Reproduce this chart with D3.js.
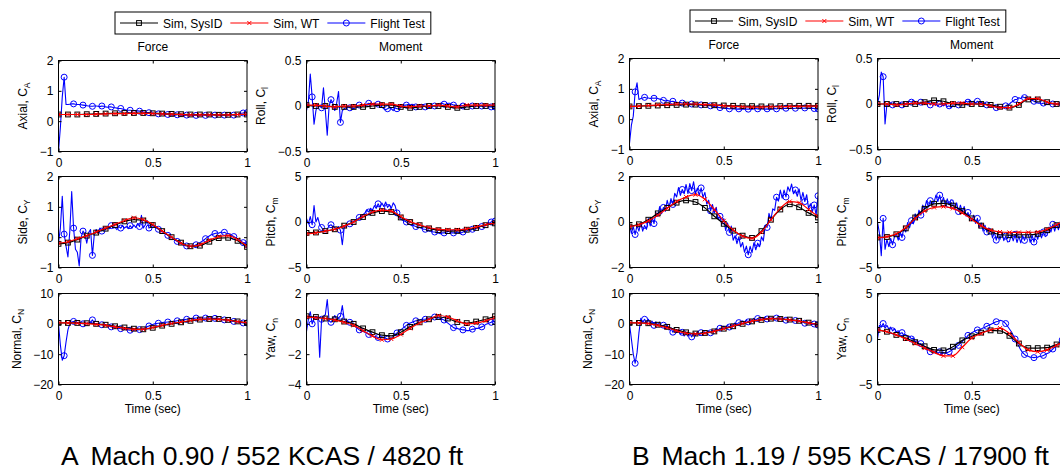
<!DOCTYPE html>
<html>
<head>
<meta charset="utf-8">
<script src="https://cdn.jsdelivr.net/npm/d3@7"></script>
<style>
body { margin: 0; background: #fff; overflow: hidden; }
svg { display: block; font-family: "Liberation Sans", Arial, sans-serif; }
</style>
</head>
<body>
<div id="chart"></div>
<script>
//Sample times (sec): simulation every 0.05, flight test every 0.01
var simTime = d3.range(21).map(function(i) { return i / 20; });
var ftTime = d3.range(101).map(function(i) { return i / 100; });

var timeTicks = [0, 0.5, 1];
var axialTicks = [-1, 0, 1, 2];
var rollTicks = [-0.5, 0, 0.5];
var sideTicksA = [-1, 0, 1, 2];
var sideTicksB = [-2, 0, 2];
var pitchTicks = [-5, 0, 5];
var normalTicks = [-20, -10, 0, 10];
var yawTicksA = [-4, -2, 0, 2];
var yawTicksB = [-5, 0, 5];

var seriesNames = ["Sim, SysID", "Sim, WT", "Flight Test"];
var captionA = ["A", "Mach 0.90 / 552 KCAS / 4820 ft"];
var captionB = ["B", "Mach 1.19 / 595 KCAS / 17900 ft"];

//---- Case A ----
var a_axial_sysid = [0.22,0.22,0.22,0.23,0.24,0.25,0.26,0.27,0.27,0.27,0.26,0.25,0.24,0.23,0.22,0.22,0.22,0.21,0.21,0.22,0.22];
var a_axial_wt = [0.22,0.22,0.22,0.22,0.23,0.24,0.25,0.25,0.26,0.26,0.25,0.24,0.23,0.22,0.21,0.21,0.21,0.21,0.21,0.22,0.23];
var a_axial_ft = [
 -1.0,-0.2,0.8,1.45,0.55,0.55,0.56,0.57,0.57,0.56,
 0.55,0.55,0.54,0.53,0.52,0.51,0.5,0.49,0.49,0.5,
 0.5,0.49,0.48,0.5,0.49,0.47,0.46,0.47,0.47,0.45,
 0.44,0.43,0.42,0.42,0.4,0.38,0.37,0.36,0.36,0.35,
 0.35,0.34,0.34,0.33,0.32,0.3,0.29,0.28,0.28,0.27,
 0.26,0.25,0.25,0.24,0.24,0.24,0.23,0.22,0.22,0.21,
 0.2,0.2,0.2,0.21,0.21,0.2,0.19,0.19,0.2,0.2,
 0.2,0.2,0.19,0.19,0.19,0.2,0.2,0.2,0.19,0.2,
 0.2,0.2,0.21,0.2,0.2,0.19,0.19,0.2,0.2,0.2,
 0.2,0.21,0.21,0.2,0.21,0.22,0.24,0.26,0.27,0.28,
 0.28];

var a_roll_sysid = [0.01,0.0,0.0,-0.01,-0.01,-0.01,-0.01,0.0,0.01,0.01,-0.01,-0.02,-0.01,0.0,0.0,-0.01,-0.02,-0.01,0.0,0.0,0.0];
var a_roll_wt = [0.01,0.01,0.0,-0.01,0.0,0.0,0.01,0.02,0.02,0.02,0.0,-0.01,0.0,0.0,0.01,0.0,-0.01,0.01,0.01,0.01,0.01];
var a_roll_ft = [
 -0.05,0.05,0.35,0.1,-0.2,-0.05,0.02,0.0,-0.02,0.2,
 -0.05,-0.32,0.0,0.07,0.03,-0.05,0.03,0.16,-0.18,-0.05,
 -0.03,-0.02,-0.01,-0.02,-0.02,-0.03,-0.02,0.0,0.01,0.0,
 0.01,0.0,0.02,0.03,0.02,0.02,0.01,0.02,0.02,0.01,
 -0.01,-0.03,-0.04,-0.03,-0.02,-0.03,-0.05,-0.02,-0.03,-0.03,
 -0.01,0.0,0.01,0.01,0.02,0.01,0.02,0.01,-0.01,0.0,
 0.01,0.02,0.01,-0.01,-0.02,-0.02,-0.01,0.0,0.0,0.01,
 0.02,0.03,0.03,0.02,0.02,0.03,0.03,0.02,0.01,0.01,
 0.0,0.0,0.01,0.0,0.0,0.01,0.01,0.0,0.0,0.0,
 0.0,0.0,0.0,0.0,-0.01,0.0,0.0,-0.01,-0.01,-0.01,
 -0.01];

var a_side_sysid = [-0.22,-0.18,-0.08,0.05,0.15,0.28,0.4,0.52,0.58,0.55,0.4,0.2,0.0,-0.18,-0.3,-0.28,-0.15,-0.03,-0.02,-0.12,-0.32];
var a_side_wt = [-0.2,-0.15,-0.05,0.05,0.17,0.3,0.42,0.55,0.64,0.58,0.42,0.2,0.0,-0.2,-0.3,-0.25,-0.1,0.02,0.05,-0.08,-0.3];
var a_side_ft = [
 -0.2,0.3,1.35,0.1,-0.3,-0.65,0.2,1.5,0.3,-0.4,
 -0.5,-0.95,0.0,0.2,0.1,-0.2,0.15,0.25,-0.6,0.1,
 0.25,0.15,0.3,0.2,0.32,0.25,0.35,0.28,0.38,0.3,
 0.32,0.25,0.35,0.3,0.38,0.3,0.35,0.28,0.38,0.3,
 0.4,0.32,0.45,0.35,0.72,0.3,0.4,0.55,0.3,0.35,
 0.38,0.34,0.3,0.26,0.22,0.18,0.14,0.1,0.06,0.02,
 -0.02,-0.06,-0.1,-0.14,-0.18,-0.22,-0.25,-0.27,-0.29,-0.3,
 -0.3,-0.3,-0.28,-0.25,-0.22,-0.18,-0.14,-0.1,-0.05,0.0,
 0.04,0.08,0.1,0.12,0.14,0.13,0.16,0.14,0.16,0.13,
 0.12,0.1,0.06,0.02,-0.02,-0.06,-0.1,-0.14,-0.18,-0.2,
 -0.25];

var a_pitch_sysid = [-1.2,-1.15,-1.0,-0.8,-0.4,0.0,0.55,1.0,1.2,1.1,0.5,0.0,-0.35,-0.7,-0.9,-1.0,-0.98,-0.85,-0.65,-0.35,-0.15];
var a_pitch_wt = [-1.3,-1.2,-1.0,-0.8,-0.45,0.0,0.6,1.1,1.3,1.2,0.6,0.05,-0.3,-0.6,-0.8,-0.85,-0.85,-0.75,-0.55,-0.3,-0.1];
var a_pitch_ft = [
 0.4,-0.2,0.6,-0.3,1.8,0.0,0.5,-0.3,-0.6,-0.9,
 -1.1,-0.8,-0.4,-0.3,-0.5,-0.6,-0.8,-0.5,-0.9,-2.5,
 -0.6,-0.4,-0.3,-0.2,-0.1,0.1,0.2,0.3,0.5,0.6,
 0.8,1.0,1.3,1.1,1.5,1.3,1.8,1.5,2.0,1.6,
 2.1,1.7,2.2,1.6,1.9,1.5,2.1,1.8,1.0,0.5,
 0.3,0.2,0.1,0.0,-0.2,-0.3,-0.4,-0.4,-0.5,-0.6,
 -0.6,-0.7,-0.8,-0.8,-0.9,-1.0,-1.0,-1.1,-1.1,-1.2,
 -1.2,-1.3,-1.2,-1.2,-1.1,-1.0,-1.1,-1.2,-1.2,-1.2,
 -1.1,-1.2,-1.2,-1.1,-1.0,-1.0,-0.9,-0.9,-0.8,-0.8,
 -0.7,-0.6,-0.5,-0.5,-0.4,-0.3,-0.2,-0.1,0.0,0.1,
 0.1];

var a_normal_sysid = [0.3,0.3,0.3,0.2,0.0,-0.3,-0.8,-1.2,-1.6,-1.8,-1.3,-0.6,0.0,0.5,1.0,1.4,1.6,1.6,1.3,0.8,0.3];
var a_normal_wt = [0.3,0.3,0.2,0.1,-0.2,-0.5,-1.0,-1.5,-1.8,-1.8,-1.2,-0.5,0.1,0.6,1.1,1.5,1.6,1.5,1.2,0.7,0.3];
var a_normal_ft = [
 0.0,-7.0,-12.0,-10.5,-6.0,-2.0,0.0,0.6,0.8,0.6,
 0.4,0.2,0.3,0.0,0.2,0.1,0.3,0.5,1.3,0.2,
 0.0,-0.1,-0.2,-0.3,-0.4,-0.5,-0.7,-0.8,-1.0,-1.1,
 -1.2,-1.4,-1.5,-1.6,-1.7,-1.8,-1.9,-2.0,-2.1,-2.1,
 -2.1,-2.0,-2.0,-1.9,-1.8,-1.6,-1.3,-1.0,-0.7,-0.4,
 -0.2,0.0,0.1,0.2,0.3,0.4,0.5,0.5,0.6,0.6,
 0.7,0.8,0.9,1.0,1.1,1.2,1.3,1.4,1.5,1.6,
 1.7,1.8,1.8,1.9,1.9,1.9,1.9,1.9,1.9,1.9,
 1.9,1.9,1.8,1.8,1.7,1.6,1.5,1.4,1.3,1.2,
 1.1,1.0,0.9,0.8,0.7,0.6,0.5,0.4,0.3,0.3,
 0.3];

var a_yaw_sysid = [0.5,0.45,0.35,0.3,0.15,0.0,-0.3,-0.55,-0.75,-0.8,-0.55,-0.2,0.1,0.3,0.45,0.35,0.12,0.05,0.15,0.3,0.5];
var a_yaw_wt = [0.45,0.4,0.35,0.25,0.1,-0.1,-0.45,-0.8,-1.05,-1.0,-0.7,-0.3,0.05,0.3,0.55,0.45,0.2,0.0,0.05,0.2,0.4];
var a_yaw_ft = [
 -0.5,0.3,0.8,0.0,0.3,0.5,0.4,-2.2,0.3,0.5,
 0.6,1.6,0.2,0.1,0.3,0.55,0.3,0.4,0.5,1.2,
 0.3,0.2,0.15,0.1,0.0,-0.1,-0.2,-0.3,-0.4,-0.45,
 -0.5,-0.55,-0.6,-0.7,-0.75,-0.8,-0.85,-0.85,-0.9,-0.9,
 -0.85,-0.9,-0.95,-1.0,-1.0,-0.95,-0.85,-0.7,-0.6,-0.5,
 -0.4,-0.3,-0.2,-0.1,0.0,0.05,0.1,0.15,0.2,0.2,
 0.25,0.3,0.3,0.3,0.35,0.35,0.4,0.4,0.45,0.4,
 0.4,0.35,0.3,0.25,0.15,0.05,-0.05,-0.15,-0.25,-0.3,
 -0.3,-0.35,-0.35,-0.4,-0.4,-0.45,-0.45,-0.4,-0.35,-0.35,
 -0.3,-0.3,-0.25,-0.2,-0.15,-0.05,0.0,0.05,0.1,0.15,
 0.15];

//---- Case B ----
var b_axial_sysid = [0.42,0.43,0.44,0.45,0.46,0.47,0.48,0.48,0.47,0.46,0.45,0.44,0.43,0.43,0.42,0.42,0.43,0.43,0.44,0.44,0.44];
var b_axial_wt = [0.42,0.43,0.45,0.47,0.48,0.5,0.5,0.5,0.48,0.47,0.44,0.42,0.41,0.4,0.4,0.41,0.41,0.42,0.42,0.43,0.43];
var b_axial_ft = [
 -0.8,-0.2,0.1,0.9,1.2,0.65,0.68,0.7,0.72,0.7,
 0.7,0.68,0.7,0.69,0.7,0.68,0.66,0.65,0.62,0.6,
 0.62,0.6,0.58,0.59,0.57,0.56,0.55,0.55,0.53,0.54,
 0.52,0.52,0.51,0.5,0.5,0.49,0.5,0.48,0.47,0.48,
 0.46,0.45,0.44,0.44,0.42,0.42,0.4,0.39,0.38,0.37,
 0.36,0.35,0.35,0.34,0.35,0.34,0.34,0.33,0.34,0.33,
 0.33,0.34,0.33,0.33,0.34,0.33,0.34,0.35,0.34,0.34,
 0.35,0.34,0.33,0.34,0.33,0.33,0.34,0.35,0.34,0.35,
 0.35,0.34,0.35,0.36,0.35,0.35,0.36,0.35,0.36,0.36,
 0.36,0.35,0.36,0.37,0.36,0.36,0.35,0.36,0.35,0.34,
 0.34];

var b_roll_sysid = [0.0,0.0,0.0,0.0,0.0,0.02,0.04,0.03,0.0,-0.01,0.0,0.0,-0.01,-0.03,-0.04,-0.01,0.05,0.05,0.02,0.0,0.0];
var b_roll_wt = [0.0,0.0,-0.01,0.0,0.01,0.01,0.0,0.0,0.01,0.01,0.0,0.0,-0.02,-0.04,-0.04,0.0,0.06,0.06,0.02,0.0,0.0];
var b_roll_ft = [
 0.0,0.1,0.35,0.3,-0.22,0.0,-0.02,0.01,-0.01,0.01,
 -0.01,0.0,0.01,-0.01,0.01,0.0,0.02,0.03,0.02,0.04,
 0.02,0.03,0.0,0.02,-0.01,0.01,0.0,0.02,-0.01,0.01,
 -0.01,0.0,-0.02,0.0,-0.01,-0.02,0.0,-0.03,-0.02,-0.04,
 -0.02,-0.03,0.0,-0.01,0.01,0.02,0.01,0.03,0.02,0.04,
 0.02,0.03,0.01,0.03,0.01,0.02,0.0,0.01,-0.01,-0.02,
 -0.02,-0.03,-0.02,-0.04,-0.03,-0.04,-0.03,-0.04,-0.02,-0.01,
 0.0,0.02,0.03,0.05,0.05,0.07,0.06,0.08,0.07,0.07,
 0.06,0.05,0.04,0.03,0.02,0.01,0.01,0.0,0.01,0.0,
 0.0,0.0,0.0,0.0,0.0,0.0,0.0,0.0,0.0,0.0,
 0.0];

var b_side_sysid = [-0.2,-0.1,0.1,0.38,0.62,0.85,0.95,0.88,0.62,0.25,-0.08,-0.38,-0.6,-0.7,-0.4,0.1,0.55,0.78,0.65,0.4,0.2];
var b_side_wt = [-0.2,-0.12,0.05,0.3,0.6,0.9,1.1,1.2,1.0,0.55,0.05,-0.35,-0.62,-0.72,-0.45,0.1,0.6,0.9,0.85,0.55,0.25];
var b_side_ft = [
 -0.1,-0.5,-0.2,-0.55,-0.15,-0.4,-0.03,-0.4,-0.15,-0.32,
 0.15,-0.17,0.2,-0.07,0.42,0.25,0.68,0.36,0.64,0.47,
 0.95,0.64,1.03,0.77,1.26,1.1,1.51,1.17,1.43,1.24,
 1.65,1.25,1.69,1.38,1.77,1.25,1.49,1.17,1.5,1.08,
 1.3,0.78,0.96,0.49,0.77,0.4,0.65,0.15,0.25,-0.1,
 0.15,-0.37,-0.04,-0.46,-0.18,-0.8,-0.6,-0.95,-0.65,-1.1,
 -0.9,-1.33,-1.06,-1.44,-1.07,-1.35,-0.91,-1.22,-0.93,-1.09,
 -0.65,-0.83,-0.16,-0.24,0.38,0.1,0.58,0.51,1.09,0.92,
 1.4,1.05,1.4,1.1,1.55,1.35,1.67,1.24,1.41,1.13,
 1.45,0.95,1.3,0.9,1.2,0.6,0.8,0.45,0.75,0.3,
 1.15];

var b_pitch_sysid = [-1.7,-1.65,-1.35,-0.7,0.5,1.45,2.0,2.05,1.8,1.2,0.4,-0.4,-1.05,-1.4,-1.45,-1.4,-1.4,-1.3,-0.9,-0.35,0.2];
var b_pitch_wt = [-1.75,-1.6,-1.3,-0.6,0.4,1.2,1.6,1.7,1.5,1.0,0.3,-0.4,-0.9,-1.1,-1.15,-1.15,-1.15,-1.1,-0.8,-0.3,0.2];
var b_pitch_ft = [
 0.0,-1.2,-3.7,0.4,-3.0,-1.9,-2.7,-1.8,-2.5,-1.6,
 -1.3,-2.0,-1.1,-1.7,-0.65,-1.1,-0.05,-0.65,0.15,-0.2,
 0.9,0.3,1.3,0.75,1.85,1.4,2.35,1.65,2.35,1.9,
 2.15,2.95,2.25,2.95,2.05,2.7,1.85,2.55,1.9,2.45,
 2.4,1.45,2.1,1.15,1.85,1.1,1.7,0.65,1.05,0.25,
 0.15,0.75,-0.15,0.4,-0.65,-0.1,-1.0,-0.35,-1.1,-0.65,
 -0.8,-1.75,-1.1,-2.0,-1.2,-1.9,-1.15,-2.05,-1.55,-2.18,
 -2.15,-1.35,-2.07,-1.35,-2.25,-1.55,-2.3,-1.48,-2.02,-1.4,
 -1.4,-2.23,-1.45,-2.2,-1.3,-1.9,-1.0,-1.75,-1.1,-1.6,
 -1.45,-0.55,-1.1,-0.25,-1.0,-0.2,-0.85,0.05,-0.4,0.3,
 0.05];

var b_normal_sysid = [0.3,0.3,0.2,-0.3,-1.0,-2.0,-2.8,-3.2,-3.0,-2.5,-1.6,-0.8,0.0,0.8,1.3,1.7,1.6,1.4,1.0,0.4,-0.2];
var b_normal_wt = [0.3,0.3,0.1,-0.5,-1.3,-2.3,-3.1,-3.3,-3.1,-2.5,-1.6,-0.7,0.1,0.9,1.4,1.7,1.6,1.3,0.9,0.3,-0.3];
var b_normal_ft = [
 0.0,-5.0,-10.0,-13.0,-9.5,-3.0,1.8,0.5,1.5,0.2,
 1.5,0.05,0.9,-0.5,0.65,-0.4,0.55,-1.0,-0.45,-1.7,
 -0.5,-2.05,-1.3,-2.75,-1.7,-2.9,-1.9,-3.4,-2.8,-4.0,
 -2.8,-4.1,-3.1,-4.3,-3.0,-3.9,-2.6,-3.8,-2.9,-3.8,
 -2.65,-3.15,-2.5,-2.95,-2.15,-2.4,-1.6,-2.05,-1.45,-1.75,
 -0.85,-1.3,-0.6,-1.05,-0.25,-0.5,0.3,-0.15,0.4,0.05,
 0.95,0.45,1.1,0.65,1.45,1.1,1.8,1.25,1.75,1.35,
 2.05,1.6,2.0,1.6,2.05,1.75,2.1,1.65,1.9,1.5,
 1.95,1.4,1.65,1.2,1.55,1.15,1.45,0.95,1.1,0.65,
 1.05,0.5,0.7,0.2,0.45,0.05,0.35,-0.2,-0.05,-0.55,
 -0.4];

var b_yaw_sysid = [1.0,0.8,0.45,0.1,-0.35,-0.8,-1.2,-1.25,-0.85,-0.15,0.3,0.7,0.95,0.9,0.35,-0.5,-1.0,-1.0,-0.95,-0.6,-0.2];
var b_yaw_wt = [1.0,0.8,0.45,0.0,-0.5,-1.0,-1.45,-1.85,-1.85,-0.9,0.1,0.6,1.0,1.2,0.6,-0.4,-1.2,-1.4,-1.2,-0.7,-0.2];
var b_yaw_ft = [
 0.0,1.5,1.3,1.7,1.2,1.5,1.1,1.3,0.9,1.1,
 0.8,0.9,0.6,0.7,0.4,0.5,0.2,0.3,0.0,0.1,
 -0.3,-0.2,-0.6,-0.5,-0.9,-0.8,-1.2,-1.0,-1.4,-1.2,
 -1.55,-1.3,-1.6,-1.4,-1.7,-1.5,-1.6,-1.5,-1.4,-1.3,
 -1.1,-1.0,-0.8,-0.7,-0.4,-0.3,0.0,0.1,0.4,0.5,
 0.7,0.8,0.9,1.0,1.0,1.1,1.2,1.3,1.4,1.5,
 1.6,1.7,1.8,1.9,1.95,2.05,2.0,1.9,1.7,1.4,
 1.1,0.8,0.4,0.0,-0.4,-0.8,-1.2,-1.5,-1.7,-1.85,
 -1.9,-2.0,-2.0,-2.05,-2.0,-2.0,-1.9,-1.9,-1.8,-1.7,
 -1.6,-1.5,-1.3,-1.1,-0.9,-0.7,-0.5,-0.3,-0.1,0.1,
 0.2];

//Layout
var width = 1060, height = 471;
var plotW = 188.5, plotH = 91;
var colX = [58.5, 306.5];
var colTitles = ["Force", "Moment"];
var fontFamily = "'Liberation Sans', Arial, sans-serif";

var panels = [
	{ caption: captionA, dx: 0, rowTop: [60.5, 176.5, 293.5], legendX: 115, legendY: 12, titleY: 50.5,
		plots: [
			{ row: 0, col: 0, label: "Axial, C", sub: "A", domain: [-1, 2], ticks: axialTicks, s: a_axial_sysid, w: a_axial_wt, f: a_axial_ft },
			{ row: 0, col: 1, label: "Roll, C", sub: "l", domain: [-0.5, 0.5], ticks: rollTicks, s: a_roll_sysid, w: a_roll_wt, f: a_roll_ft },
			{ row: 1, col: 0, label: "Side, C", sub: "Y", domain: [-1, 2], ticks: sideTicksA, s: a_side_sysid, w: a_side_wt, f: a_side_ft },
			{ row: 1, col: 1, label: "Pitch, C", sub: "m", domain: [-5, 5], ticks: pitchTicks, s: a_pitch_sysid, w: a_pitch_wt, f: a_pitch_ft },
			{ row: 2, col: 0, label: "Normal, C", sub: "N", domain: [-20, 10], ticks: normalTicks, s: a_normal_sysid, w: a_normal_wt, f: a_normal_ft },
			{ row: 2, col: 1, label: "Yaw, C", sub: "n", domain: [-4, 2], ticks: yawTicksA, s: a_yaw_sysid, w: a_yaw_wt, f: a_yaw_ft }
		] },
	{ caption: captionB, dx: 571, rowTop: [58.5, 176.5, 293.5], legendX: 690, legendY: 10, titleY: 48.5,
		plots: [
			{ row: 0, col: 0, label: "Axial, C", sub: "A", domain: [-1, 2], ticks: axialTicks, s: b_axial_sysid, w: b_axial_wt, f: b_axial_ft },
			{ row: 0, col: 1, label: "Roll, C", sub: "l", domain: [-0.5, 0.5], ticks: rollTicks, s: b_roll_sysid, w: b_roll_wt, f: b_roll_ft },
			{ row: 1, col: 0, label: "Side, C", sub: "Y", domain: [-2, 2], ticks: sideTicksB, s: b_side_sysid, w: b_side_wt, f: b_side_ft },
			{ row: 1, col: 1, label: "Pitch, C", sub: "m", domain: [-5, 5], ticks: pitchTicks, s: b_pitch_sysid, w: b_pitch_wt, f: b_pitch_ft },
			{ row: 2, col: 0, label: "Normal, C", sub: "N", domain: [-20, 10], ticks: normalTicks, s: b_normal_sysid, w: b_normal_wt, f: b_normal_ft },
			{ row: 2, col: 1, label: "Yaw, C", sub: "n", domain: [-5, 5], ticks: yawTicksB, s: b_yaw_sysid, w: b_yaw_wt, f: b_yaw_ft }
		] }
];

var fmt = d3.format("~g");

var svg = d3.select("#chart")
	.append("svg")
	.attr("width", width)
	.attr("height", height)
	.style("font-family", fontFamily);

//Marker drawing: square (SysID), x (WT), circle (flight test)
var drawMarker = function(sel, type) {
	if (type === "square") {
		sel.append("rect").attr("x", -2.4).attr("y", -2.4).attr("width", 4.8).attr("height", 4.8)
			.attr("fill", "none").attr("stroke", "#000").attr("stroke-width", 1);
	} else if (type === "cross") {
		sel.append("path").attr("d", "M-2,-2L2,2M-2,2L2,-2")
			.attr("fill", "none").attr("stroke", "#ff0000").attr("stroke-width", 1);
	} else {
		sel.append("circle").attr("r", 3)
			.attr("fill", "none").attr("stroke", "#0000ff").attr("stroke-width", 1);
	}
};

var clipId = 0;

var drawPlot = function(panel, p) {
	var originX = panel.dx + colX[p.col];
	var g = svg.append("g")
		.attr("transform", "translate(" + originX + "," + panel.rowTop[p.row] + ")");

	var x = d3.scaleLinear().domain([0, 1]).range([0, plotW]);
	var y = d3.scaleLinear().domain(p.domain).range([plotH, 0]);

	var id = "clip" + (clipId++);
	g.append("clipPath").attr("id", id)
		.append("rect").attr("width", plotW).attr("height", plotH);

	var plot = g.append("g").attr("clip-path", "url(#" + id + ")");

	var lineLin = d3.line()
		.x(function(d) { return x(d[0]); })
		.y(function(d) { return y(d[1]); });
	var lineSmooth = d3.line()
		.curve(d3.curveMonotoneX)
		.x(function(d) { return x(d[0]); })
		.y(function(d) { return y(d[1]); });

	var ftData = p.f.map(function(v, i) { return [ftTime[i], v]; });
	var sData = p.s.map(function(v, i) { return [simTime[i], v]; });
	var wData = p.w.map(function(v, i) { return [simTime[i], v]; });

	//Flight test (bottom), then SysID, then WT
	plot.append("path").datum(ftData).attr("d", lineLin)
		.attr("fill", "none").attr("stroke", "#0000ff").attr("stroke-width", 1.1).attr("stroke-linejoin", "round");
	plot.selectAll(".ftm")
		.data(ftData.filter(function(d, i) { return i % 5 === 3 || i === 100; }))
		.enter().append("g")
		.attr("transform", function(d) { return "translate(" + x(d[0]) + "," + y(d[1]) + ")"; })
		.call(drawMarker, "circle");

	plot.append("path").datum(sData).attr("d", lineSmooth)
		.attr("fill", "none").attr("stroke", "#000").attr("stroke-width", 1.2);
	plot.selectAll(".sm")
		.data(sData).enter().append("g")
		.attr("transform", function(d) { return "translate(" + x(d[0]) + "," + y(d[1]) + ")"; })
		.call(drawMarker, "square");

	plot.append("path").datum(wData).attr("d", lineSmooth)
		.attr("fill", "none").attr("stroke", "#ff0000").attr("stroke-width", 1.2);
	plot.selectAll(".wm")
		.data(wData).enter().append("g")
		.attr("transform", function(d) { return "translate(" + x(d[0]) + "," + y(d[1]) + ")"; })
		.call(drawMarker, "cross");

	//Axes, ticks pointing inside on all four sides
	var styleAxis = function(a) {
		a.attr("font-size", 12).attr("font-family", fontFamily);
		a.select(".domain").remove();
		a.selectAll("text").attr("fill", "#000");
	};
	var yAxis = g.append("g")
		.call(d3.axisLeft(y).tickValues(p.ticks).tickFormat(fmt).tickSize(-3).tickPadding(5))
		.call(styleAxis);
	g.append("g")
		.attr("transform", "translate(" + plotW + ",0)")
		.call(d3.axisRight(y).tickValues(p.ticks).tickFormat("").tickSize(-3))
		.call(styleAxis);
	var xAxis = g.append("g")
		.attr("transform", "translate(0," + plotH + ")")
		.call(d3.axisBottom(x).tickValues(timeTicks).tickFormat(fmt).tickSize(-3).tickPadding(7))
		.call(styleAxis);
	//tick labels falling past the right edge of the figure are not shown
	xAxis.selectAll(".tick").filter(function(d) { return originX + x(d) + 3 > width; })
		.select("text").remove();
	g.append("g")
		.call(d3.axisTop(x).tickValues(timeTicks).tickFormat("").tickSize(-3))
		.call(styleAxis);

	g.append("rect")
		.attr("width", plotW).attr("height", plotH)
		.attr("fill", "none").attr("stroke", "#000").attr("stroke-width", 1);

	//Y label placed just beyond the widest tick label
	var maxW = d3.max(yAxis.selectAll("text").nodes(), function(n) { return n.getComputedTextLength(); });
	var lab = g.append("text")
		.attr("transform", "translate(" + (-5 - maxW - 12.5) + "," + (plotH / 2) + ") rotate(-90)")
		.attr("text-anchor", "middle")
		.attr("font-size", 12)
		.attr("fill", "#000");
	lab.append("tspan").text(p.label);
	lab.append("tspan").attr("font-size", 8.5).attr("dy", 3).text(p.sub);

	if (p.row === 0) {
		g.append("text")
			.attr("x", plotW / 2)
			.attr("y", panel.titleY - panel.rowTop[0])
			.attr("text-anchor", "middle")
			.attr("font-size", 12)
			.text(colTitles[p.col]);
	}
	if (p.row === 2) {
		g.append("text")
			.attr("x", plotW / 2)
			.attr("y", plotH + 28.5)
			.attr("text-anchor", "middle")
			.attr("font-size", 12)
			.text("Time (sec)");
	}
};

var drawLegend = function(panel) {
	var lg = svg.append("g").attr("transform", "translate(" + panel.legendX + "," + panel.legendY + ")");
	var box = lg.append("rect").attr("height", 22).attr("fill", "#fff").attr("stroke", "#000").attr("stroke-width", 1);
	var types = ["square", "cross", "circle"];
	var colors = ["#000", "#ff0000", "#0000ff"];
	var xPos = 5;
	seriesNames.forEach(function(name, i) {
		lg.append("line")
			.attr("x1", xPos).attr("x2", xPos + 38)
			.attr("y1", 11).attr("y2", 11)
			.attr("stroke", colors[i]).attr("stroke-width", 1.1);
		lg.append("g").attr("transform", "translate(" + (xPos + 19) + ",11)").call(drawMarker, types[i]);
		var t = lg.append("text")
			.attr("x", xPos + 43).attr("y", 15.5)
			.attr("font-size", 12)
			.text(name);
		xPos = xPos + 43 + t.node().getComputedTextLength() + 8;
	});
	box.attr("width", xPos - 2);
};

panels.forEach(function(panel) {
	drawLegend(panel);
	panel.plots.forEach(function(p) { drawPlot(panel, p); });
	var left = panel.dx + colX[0] + 2.5;
	var cap = svg.append("text")
		.attr("y", 464.5)
		.attr("font-size", 26.5)
		.attr("fill", "#000");
	cap.append("tspan").attr("x", left).text(panel.caption[0]);
	cap.append("tspan").attr("x", left + 29.5).text(panel.caption[1]);
});
</script>
</body>
</html>
